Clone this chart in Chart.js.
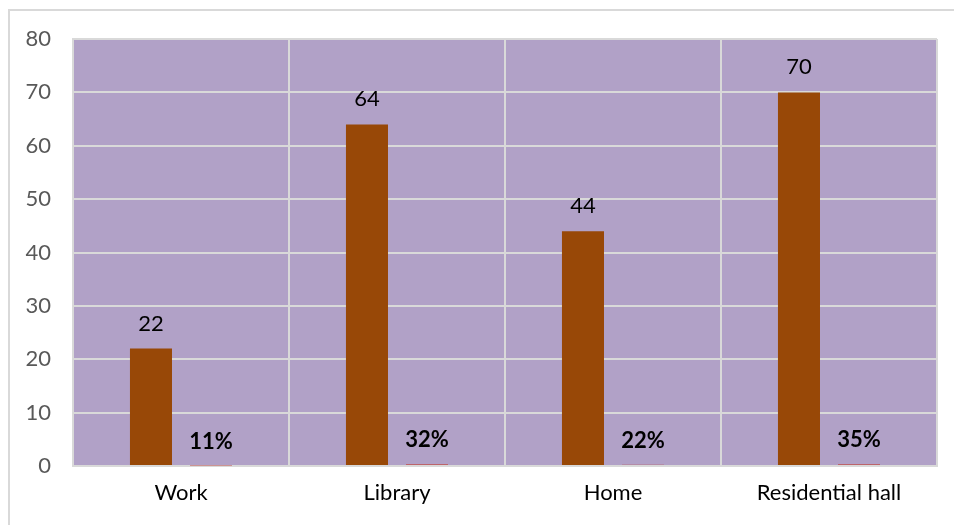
<!DOCTYPE html>
<html>
<head>
<meta charset="utf-8">
<script src="https://cdn.jsdelivr.net/npm/chart.js@4"></script>
<style>
  html, body { margin: 0; padding: 0; background: #fff; }
  #wrap { width: 954px; height: 525px; }
</style>
</head>
<body>
<div id="wrap"><canvas id="placeChart" width="954" height="525"></canvas></div>
<script>
const places = ["Work", "Library", "Home", "Residential hall"];
const counts = [22, 64, 44, 70];
const shares = [0.11, 0.32, 0.22, 0.35]; // plotted as fractions on the same axis
const yTicks = [0, 10, 20, 30, 40, 50, 60, 70, 80];

const FONT = "Lato, 'Open Sans', sans-serif";

// purple plot background + the light grey frame round the whole chart
const backdrop = {
  id: "backdrop",
  beforeDraw(chart) {
    const { ctx, chartArea: a } = chart;
    ctx.save();
    ctx.strokeStyle = "#d9d9d9";
    ctx.lineWidth = 2;
    ctx.strokeRect(9, 10, 1200, 1200);
    ctx.fillStyle = "#b1a1c7";
    ctx.fillRect(a.left, a.top, a.right - a.left, a.bottom - a.top);
    ctx.restore();
  }
};

// value labels above each bar
const barLabels = {
  id: "barLabels",
  afterDatasetsDraw(chart) {
    const ctx = chart.ctx;
    ctx.save();
    ctx.textAlign = "center";
    ctx.textBaseline = "middle";
    ctx.fillStyle = "#000";
    chart.data.datasets.forEach((ds, i) => {
      chart.getDatasetMeta(i).data.forEach((bar, j) => {
        const v = ds.data[j];
        if (i === 0) {
          ctx.font = "22px " + FONT;
          ctx.fillText(String(v), bar.x, bar.y - 25);
        } else {
          ctx.font = "bold 22px " + FONT;
          ctx.fillText(Math.round(v * 100) + "%", bar.x, bar.y - 24);
        }
      });
    });
    ctx.restore();
  }
};

new Chart(document.getElementById("placeChart"), {
  type: "bar",
  data: {
    labels: places,
    datasets: [
      { label: "Count", data: counts, backgroundColor: "#984807" },
      { label: "Share", data: shares, backgroundColor: "#c0504d" }
    ]
  },
  options: {
    responsive: false,
    animation: false,
    datasets: { bar: { barPercentage: 0.7, categoryPercentage: 0.556 } },
    layout: { padding: { top: 39, right: 17, left: 0, bottom: 0 } },
    plugins: { legend: { display: false }, tooltip: { enabled: false } },
    scales: {
      x: {
        grid: { color: "#d9d9d9", lineWidth: 2, drawTicks: false, offset: true },
        border: { color: "#d9d9d9", width: 2 },
        ticks: { color: "#000", font: { family: FONT, size: 22 }, padding: 14 },
        afterFit(scale) { scale.height = 59; }
      },
      y: {
        min: 0,
        max: 80,
        afterBuildTicks(scale) { scale.ticks = yTicks.map(v => ({ value: v })); },
        grid: { color: "#d9d9d9", lineWidth: 2, drawTicks: false },
        border: { color: "#d9d9d9", width: 2 },
        ticks: { color: "#595959", font: { family: FONT, size: 22 }, padding: 22 },
        afterFit(scale) { scale.width = 73; }
      }
    }
  },
  plugins: [backdrop, barLabels]
});
</script>
</body>
</html>
